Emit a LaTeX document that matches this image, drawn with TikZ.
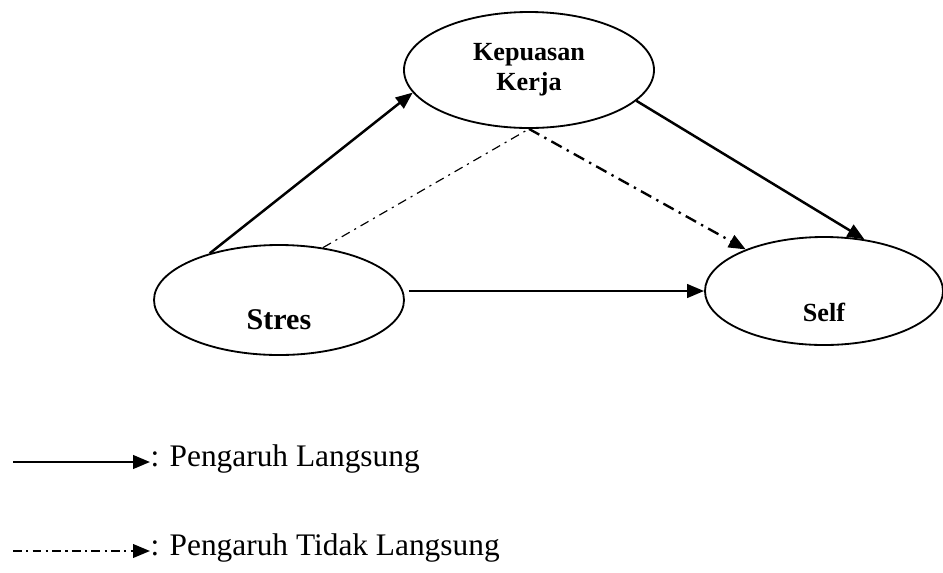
\documentclass[tikz,border=0pt]{standalone}
\usepackage{fontspec}
\setmainfont{Liberation Serif}
\usetikzlibrary{shapes.geometric,arrows.meta}

\begin{document}
\begin{tikzpicture}[x=0.3825pt, y=-0.3825pt,
  var/.style={ellipse, draw, line width=0.7pt, inner sep=0pt},
  direct/.style={line width=0.95pt, -{Triangle[length=6.5pt,width=5.2pt]}},
  indirect/.style={line width=0.9pt, dash pattern=on 4.5pt off 2.2pt on 0.9pt off 2.2pt,
    -{Triangle[length=6.5pt,width=5.2pt]}},
  legendtext/.style={anchor=base west, inner sep=0pt, font=\fontsize{12}{14}\selectfont}]

% Size of one pixel of the original figure:
\def\px{0.3825pt}

\useasboundingbox (0,0) rectangle (943,572);

%--- The three variables ---
\node[var, minimum width={250*\px}, minimum height={116*\px}, align=center,
  font=\bfseries\fontsize{10}{11.5}\selectfont] (kepuasan) at (529,70) {Kepuasan\\Kerja};
\node[var, minimum width={250*\px}, minimum height={110*\px},
  label={[font=\bfseries\fontsize{11.5}{13}\selectfont, yshift={-20*\px}]center:Stres}] (stres) at (279,300) {};
\node[var, minimum width={238*\px}, minimum height={108*\px},
  label={[font=\bfseries\fontsize{10}{12}\selectfont, yshift={-21*\px}]center:Self}] (self) at (824,291) {};

%--- Direct paths ---
\draw[direct] (stres.146) -- (kepuasan.191);
\draw[direct] (kepuasan.344) -- (self.52);
\draw[direct, shorten <=4*\px] (stres.east |- self.west) -- (self.west);

%--- Indirect path (through Kepuasan Kerja) ---
\draw[line width=0.45pt, dash pattern=on 3.5pt off 2pt on 0.8pt off 2pt] (stres.50) -- (kepuasan.south);
\draw[indirect] (kepuasan.south) -- (self.152);

%--- Legend ---
\coordinate (solidstart) at (13,462);
\node[legendtext] (solidtxt) at (150,466) {: Pengaruh Langsung};
\draw[direct] (solidstart) -- (solidstart -| solidtxt.west);

\coordinate (dashstart) at (13,551);
\node[legendtext] (dashtxt) at (150,555) {: Pengaruh Tidak Langsung};
\draw[line width=0.8pt, dash pattern=on 3.4pt off 1.6pt on 0.9pt off 1.6pt,
  -{Triangle[length=6.5pt,width=5.2pt]}] (dashstart) -- (dashstart -| dashtxt.west);

\end{tikzpicture}
\end{document}
